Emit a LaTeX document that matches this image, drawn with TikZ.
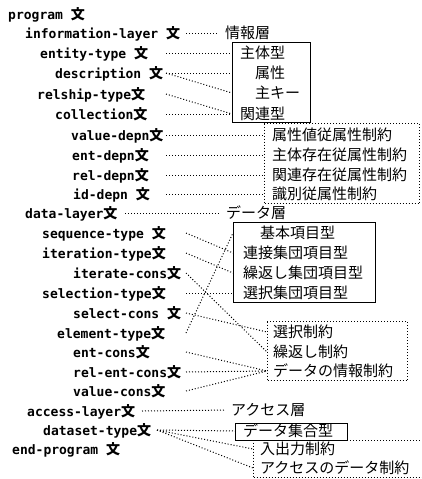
\documentclass[tikz,border=0pt]{standalone}
\usepackage{fontspec}
\usepackage{tikz}
\usetikzlibrary{positioning}
\newfontfamily\jpfont{Noto Sans CJK JP}
\newfontfamily\codefont{DejaVu Sans Mono}
\newcommand{\bun}{{\jpfont\fontsize{14}{14}\selectfont 文}}

\begin{document}
\begin{tikzpicture}[x=1pt, y=-1pt,
        stmt/.style={anchor=west, inner sep=0pt, text height=11pt, text depth=1pt,
                     font=\codefont\bfseries\fontsize{13}{13}\selectfont},
        item/.style={anchor=west, inner sep=0pt, text height=12pt, text depth=1pt,
                     font=\jpfont\fontsize{15}{15}\selectfont},
        link/.style={line width=1pt, dash pattern=on 1pt off 2pt},
        solidbox/.style={draw, line width=0.9pt, anchor=north west, inner sep=0pt},
        dotbox/.style={link, draw, anchor=north west, inner sep=0pt},
    ]
        \useasboundingbox (0,0) rectangle (421,479);

        % statements
        \node[stmt] (prog)       at (8,14)   {program \bun};
        \node[stmt] (infolayer)  at (25,33)  {information-layer \bun};
        \node[stmt] (entity)     at (40,53)  {entity-type \bun};
        \node[stmt] (descr)      at (55,73)  {description \bun};
        \node[stmt] (relship)    at (37,94)  {relship-type\bun};
        \node[stmt] (collect)    at (55,114) {collection\bun};
        \node[stmt] (valdep)     at (71,135) {value-depn\bun};
        \node[stmt] (entdep)     at (72,155) {ent-depn\bun};
        \node[stmt] (reldep)     at (72,175) {rel-depn\bun};
        \node[stmt] (iddep)      at (73,194) {id-depn \bun};
        \node[stmt] (datalayer)  at (25,213) {data-layer\bun};
        \node[stmt] (seqtype)    at (42,233) {sequence-type \bun};
        \node[stmt] (itertype)   at (42,253) {iteration-type\bun};
        \node[stmt] (itercons)   at (73,273) {iterate-cons\bun};
        \node[stmt] (seltype)    at (42,293) {selection-type\bun};
        \node[stmt] (selcons)    at (73,313) {select-cons \bun};
        \node[stmt] (elemtype)   at (57,333) {element-type\bun};
        \node[stmt] (entcons)    at (73,352) {ent-cons\bun};
        \node[stmt] (relentcons) at (73,372) {rel-ent-cons\bun};
        \node[stmt] (valcons)    at (73,391) {value-cons\bun};
        \node[stmt] (acclayer)   at (27,411) {access-layer\bun};
        \node[stmt] (dataset)    at (43,430) {dataset-type\bun};
        \node[stmt] (endprog)    at (12,449) {end-program \bun};

        % boxes
        \node[solidbox, minimum width=78, minimum height=80]  (box1) at (232,42)  {};
        \node[dotbox,   minimum width=155, minimum height=80] (box2) at (264,123) {};
        \node[solidbox, minimum width=142, minimum height=80] (box3) at (233,222) {};
        \node[dotbox,   minimum width=140, minimum height=59] (box4) at (267,321) {};
        \node[dotbox,   minimum width=180, minimum height=37] (box6) at (253,440) {};
        \node[solidbox, minimum width=112, minimum height=17, fill=white] (box5) at (235,423) {};

        % items
        \node[item] (infoL) at (225,33)  {情報層};
        \node[item] (mainT) at (240,53)  {主体型};
        \node[item] (attrT) at (255,73)  {属性};
        \node[item] (keyT)  at (255,93)  {主キー};
        \node[item] (relT)  at (240,114) {関連型};
        \node[item] (dep1)  at (272,135) {属性値従属性制約};
        \node[item] (dep2)  at (272,155) {主体存在従属性制約};
        \node[item] (dep3)  at (272,175) {関連存在従属性制約};
        \node[item] (dep4)  at (272,194) {識別従属性制約};
        \node[item] (dataL) at (226,213) {データ層};
        \node[item] (basicT) at (260,233) {基本項目型};
        \node[item] (concT)  at (243,253) {連接集団項目型};
        \node[item] (repT)   at (243,273) {繰返し集団項目型};
        \node[item] (selT)   at (243,293) {選択集団項目型};
        \node[item] (selC)   at (273,332) {選択制約};
        \node[item] (repC)   at (273,352) {繰返し制約};
        \node[item] (dinfC)  at (273,371) {データの情報制約};
        \node[item] (accL)   at (231,410) {アクセス層};
        \node[item] (dsetT)  at (243,431) {データ集合型};
        \node[item] (ioC)    at (260,449) {入出力制約};
        \node[item] (adC)    at (260,468) {アクセスのデータ制約};

        % start columns of the links
        \coordinate (ca) at (166,0);
        \coordinate (cb) at (186,0);
        \coordinate (cc) at (125,0);
        \coordinate (cd) at (142,0);
        \coordinate (ce) at (157,0);

        \foreach \s/\a/\e/\b in {ca/entity/box1/mainT, ca/descr/box1/attrT, ca/descr/box1/keyT,
                ca/relship/box1/relT, ca/collect/box1/relT,
                ca/valdep/box2/dep1, ca/entdep/box2/dep2, ca/reldep/box2/dep3, ca/iddep/box2/dep4,
                cb/seqtype/box3/concT, cb/itertype/box3/repT, cb/seltype/box3/selT, cb/elemtype/box3/basicT,
                cb/itercons/box4/repC, cb/selcons/box4/selC, cb/entcons/box4/dinfC,
                cb/relentcons/box4/dinfC, cb/valcons/box4/dinfC,
                ce/dataset/box5/dsetT, ce/dataset/box6/ioC, ce/dataset/box6/adC} {
            \draw[link] (\s |- \a) -- (\e.west |- \b);
        }

        \foreach \s/\a/\b in {cb/infolayer/infoL, cc/datalayer/dataL, cd/acclayer/accL} {
            \draw[link, shorten >=6pt] (\s |- \a) -- (\b.west);
        }
    \end{tikzpicture}
\end{document}
